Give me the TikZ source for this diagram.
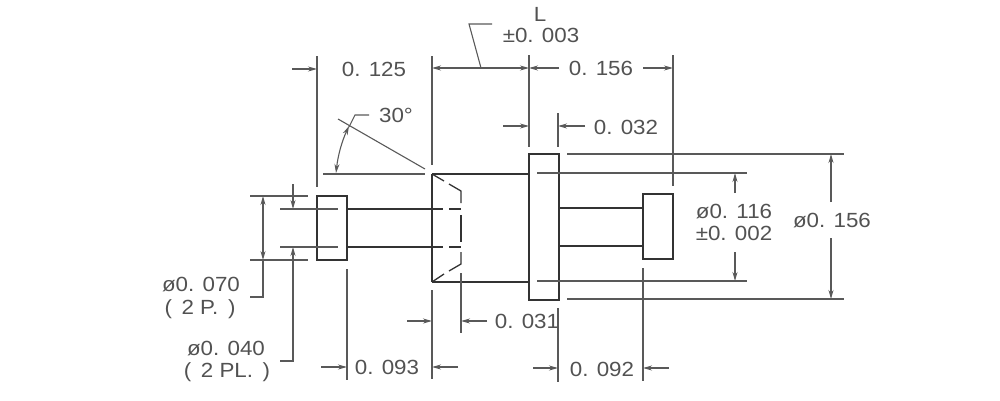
\documentclass[tikz,border=0pt]{standalone}
\usepackage{fontspec}
\setmainfont[FakeStretch=1.09]{Liberation Sans}
\usetikzlibrary{arrows.meta}
\tikzset{
  part/.style={line width=1.3pt,draw=black!80},
  thin line/.style={line width=1.1pt,draw=black!65},
  dimarrow/.style={thin line,-{Stealth[length=9pt,width=5pt]}},
  dimboth/.style={thin line,{Stealth[length=9pt,width=5pt]}-{Stealth[length=9pt,width=5pt]}},
  lbl/.style={inner sep=0pt,text=black!68,font=\fontsize{20.5}{23}\selectfont},
}
\begin{document}
\begin{tikzpicture}[x=1pt,y=-1pt]
\useasboundingbox (0,0) rectangle (1000,400);
% --- part outline
\draw[part] (317,196) rectangle (347,260);
\draw[part] (347,209) -- (443,209);
\draw[part] (347,247) -- (443,247);
\draw[part] (449,209) -- (461,209);
\draw[part] (449,247) -- (461,247);
\draw[part] (432,174) -- (432,282);
\draw[part] (432,174) -- (529,174);
\draw[part] (432,282) -- (529,282);
\draw[part] (432,174) -- (444,181);
\draw[part] (449,184) -- (461,191) -- (461,203);
\draw[part] (461,215) -- (461,242);
\draw[part] (461,252) -- (461,264) -- (449,271);
\draw[part] (444,274) -- (432,282);
\draw[part] (529,154) rectangle (559,300);
\draw[part] (559,208) -- (643,208);
\draw[part] (559,246) -- (643,246);
\draw[part] (643,194) rectangle (673,259);
% --- extension lines
\draw[thin line] (317,56) -- (317,187);
\draw[thin line] (432,56) -- (432,165);
\draw[thin line] (529,55) -- (529,147);
\draw[thin line] (558,113) -- (558,147);
\draw[thin line] (673,55) -- (673,186);
\draw[thin line] (537,173) -- (747,173);
\draw[thin line] (537,281) -- (747,281);
\draw[thin line] (567,154) -- (844,154);
\draw[thin line] (567,299) -- (844,299);
\draw[thin line] (250,196) -- (308,196);
\draw[thin line] (250,260) -- (308,260);
\draw[thin line] (280,209) -- (338,209);
\draw[thin line] (280,247) -- (338,247);
\draw[thin line] (347,269) -- (347,380);
\draw[thin line] (432,290) -- (432,379);
\draw[thin line] (461,273) -- (461,333);
\draw[thin line] (558,308) -- (558,382);
\draw[thin line] (643,268) -- (643,381);
\draw[thin line] (323,174) -- (425,174);
\draw[thin line] (338,119) -- (425,169);
% --- dimension arrows
\draw[dimarrow] (292,69) -- (317,69);
\draw[dimboth] (432,68) -- (529,68);
\draw[thin line] (481,68) -- (469,24) -- (492,24);
\draw[dimarrow] (559,68) -- (529,68);
\draw[dimarrow] (643,68) -- (673,68);
\draw[dimarrow] (503,126) -- (529,126);
\draw[dimarrow] (585,126) -- (558,126);
\draw[dimarrow] (735,193) -- (735,173);
\draw[dimarrow] (735,252) -- (735,281);
\draw[dimarrow] (831,202) -- (831,154);
\draw[dimarrow] (831,238) -- (831,299);
\draw[dimboth] (263,196) -- (263,260);
\draw[thin line] (263,260) -- (263,297) -- (250,297);
\draw[dimarrow] (293,184) -- (293,209);
\draw[dimarrow] (280,361) -- (293,361) -- (293,247);
\draw[dimarrow] (407,321) -- (432,321);
\draw[dimarrow] (487,321) -- (461,321);
\draw[dimarrow] (321,367) -- (347,367);
\draw[dimarrow] (458,367) -- (432,367);
\draw[dimarrow] (533,368) -- (558,368);
\draw[dimarrow] (669,368) -- (643,368);
\draw[dimboth] (336,173) .. controls (338,155) and (342,141) .. (349,126);
\draw[thin line] (349,127) -- (355,115) -- (369,115);
% --- labels
\node[lbl] (t125) at (374,69) {0. 125};
\node[lbl] (tL) at (540,14) {L};
\node[lbl] (tL2) at (541,35) {±0. 003};
\node[lbl] (t156) at (601,68) {0. 156};
\node[lbl] (t30) at (396,115) {30°};
\node[lbl] (t032) at (626,127) {0. 032};
\node[lbl] (t116) at (734,212) {ø0. 116};
\node[lbl] (t002) at (734,233) {±0. 002};
\node[lbl] (td156) at (832,221) {ø0. 156};
\node[lbl] (t070) at (201,285) {ø0. 070};
\node[lbl] (t2p) at (200,309) {(\, 2 P. \,)};
\node[lbl] (t040) at (226,349) {ø0. 040};
\node[lbl] (t2pl) at (227,372) {(\, 2 PL. \,)};
\node[lbl] (t031) at (527,321) {0. 031};
\node[lbl] (t093) at (387,367) {0. 093};
\node[lbl] (t092) at (602,369) {0. 092};
\end{tikzpicture}
\end{document}
